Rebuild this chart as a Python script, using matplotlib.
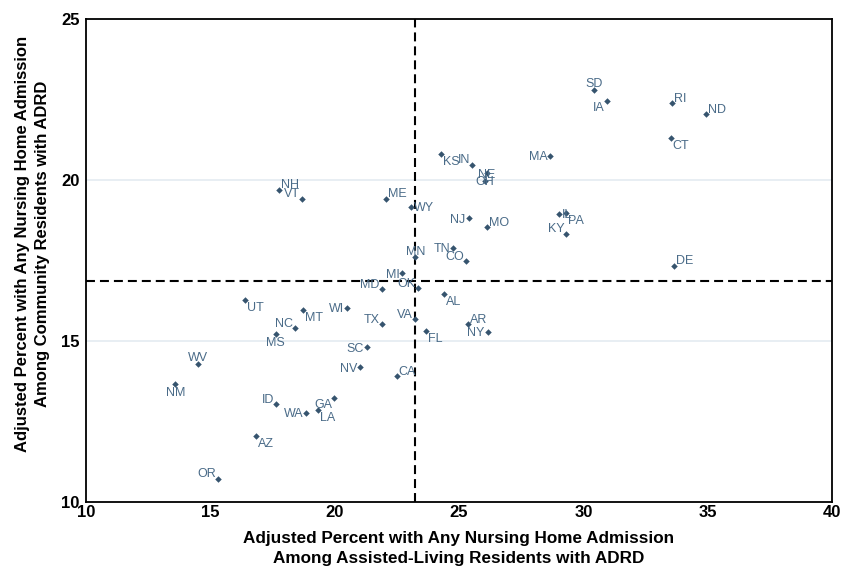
import matplotlib
matplotlib.use("Agg")
import matplotlib.pyplot as plt

# ---- data ----
states = ["SD", "IA", "RI", "ND", "CT", "MA", "KS", "IN", "NE", "OH",
          "NJ", "MO", "IL", "PA", "KY", "TN", "CO", "DE", "NH", "VT",
          "ME", "WY", "MN", "MI", "MD", "OK", "AL", "WI", "MT", "TX",
          "VA", "FL", "AR", "NY", "SC", "NV", "CA", "UT", "NC", "MS",
          "WV", "NM", "ID", "GA", "WA", "LA", "AZ", "OR"]
assisted_living = [30.43, 30.95, 33.57, 34.94, 33.52, 28.67, 24.29, 25.53, 26.12, 26.05,
                   25.39, 26.11, 29.02, 29.30, 29.31, 24.77, 25.30, 33.66, 17.76, 18.69,
                   22.05, 23.06, 23.24, 22.72, 21.89, 23.34, 24.39, 20.49, 18.71, 21.89,
                   23.24, 23.68, 25.37, 26.15, 21.31, 21.02, 22.49, 16.38, 18.42, 17.63,
                   14.49, 13.59, 17.64, 19.98, 18.85, 19.34, 16.84, 15.32]
community = [22.80, 22.46, 22.38, 22.04, 21.31, 20.75, 20.80, 20.47, 20.21, 19.98,
             18.81, 18.54, 18.95, 18.97, 18.33, 17.90, 17.48, 17.33, 19.70, 19.41,
             19.42, 19.17, 17.60, 17.11, 16.61, 16.64, 16.47, 16.03, 15.96, 15.52,
             15.67, 15.32, 15.52, 15.29, 14.80, 14.18, 13.90, 16.27, 15.40, 15.23,
             14.30, 13.67, 13.03, 13.24, 12.77, 12.85, 12.06, 10.72]
# label clock positions (Stata-style)
label_pos = [12, 8, 2, 2, 4, 9, 4, 10, 0, 0,
             9, 2, 3, 4, 10, 9, 10, 2, 2, 10,
             2, 3, 12, 9, 10, 10, 4, 9, 4, 10,
             10, 4, 2, 9, 9, 9, 2, 4, 10, 6,
             12, 6, 10, 8, 9, 4, 4, 10]
ref_x = 23.24
ref_y = 16.87
x_ticks = [10, 15, 20, 25, 30, 35, 40]
y_ticks = [10, 15, 20, 25]
x_title = "Adjusted Percent with Any Nursing Home Admission\nAmong Assisted-Living Residents with ADRD"
y_title = "Adjusted Percent with Any Nursing Home Admission\nAmong Community Residents with ADRD"

# ---- style ----
plt.rcParams['font.family'] = ['Liberation Sans', 'DejaVu Sans']
W, H = 844, 570
fig = plt.figure(figsize=(W / 100, H / 100), dpi=100)
ax = fig.add_axes([86 / W, 1 - 502 / H, (832 - 86) / W, (502 - 19) / H])
ax.set_xlim(10, 40)
ax.set_ylim(10, 25)

marker_col = '#36546e'
label_col = '#4a6b88'

for g in [15, 20, 25]:
    ax.axhline(g, color='#e8eef3', lw=1.4, zorder=0)

ax.axvline(ref_x, color='black', lw=1.5, dashes=(4.3, 2.4), zorder=1)
ax.axhline(ref_y, color='black', lw=1.5, dashes=(4.3, 2.4), zorder=1)

ax.scatter(assisted_living, community, marker='D', s=11, color=marker_col,
           linewidths=0, zorder=3)

px = 0.72  # points per pixel
# (dx_px, dy_px of baseline (down positive), ha)
pos_map = {
    12: (0, -2.5, 'center'),
    6: (0, 12.0, 'center'),
    3: (3, 4.5, 'left'),
    9: (-3, 4.5, 'right'),
    2: (2, -1.5, 'left'),
    4: (2, 11.0, 'left'),
    10: (-2, -1.5, 'right'),
    8: (-2, 10.5, 'right'),
    0: (0, 4.5, 'center'),
}
for s, xv, yv, p in zip(states, assisted_living, community, label_pos):
    dx, dy, ha = pos_map[p]
    ax.annotate(s, (xv, yv), xytext=(dx * px, -dy * px), textcoords='offset points',
                ha=ha, va='baseline', fontsize=9, color=label_col, zorder=4)

ax.set_xticks(x_ticks)
ax.set_yticks(y_ticks)
ax.tick_params(axis='both', length=0, labelsize=12)
ax.tick_params(axis='x', pad=2.5)
ax.tick_params(axis='y', pad=4.5)
for lab in ax.get_xticklabels() + ax.get_yticklabels():
    lab.set_fontweight('bold')
for sp in ax.spines.values():
    sp.set_linewidth(1.3)
    sp.set_color('black')

fig.text(459 / W, 1 - 548.5 / H, x_title, ha='center', va='center', fontsize=12.3,
         fontweight='bold', linespacing=1.35, multialignment='center')
fig.text(32.5 / W, 1 - 244 / H, y_title, ha='center', va='center', fontsize=12,
         fontweight='bold', rotation=90, linespacing=1.35, multialignment='center')

fig.savefig('out.png', dpi=100)
